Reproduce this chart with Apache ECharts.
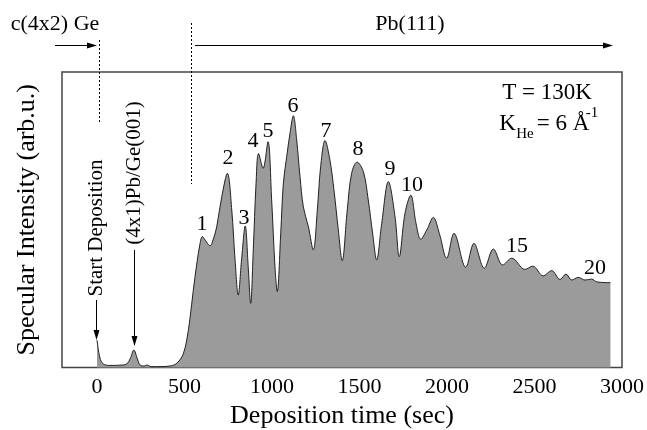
<!DOCTYPE html>
<html>
<head>
<meta charset="utf-8">
<script src="https://cdn.jsdelivr.net/npm/echarts@6/dist/echarts.min.js"></script>
<style>
html,body{margin:0;padding:0;background:#fff;}
#main{width:647px;height:430px;}
</style>
</head>
<body>
<div id="main"></div>
<script>
// deposition time (sec)
var times = [0, 17, 36, 74, 149, 170, 189, 211, 229, 246, 269, 287, 309, 360, 417, 446, 474, 493, 512, 531,
    550, 570, 589, 602, 625, 646, 665, 684, 713, 745, 770, 789, 807, 826, 847, 864, 878, 893, 909, 923,
    949, 977, 998, 1017, 1030, 1050, 1065, 1084, 1103, 1122, 1141, 1160, 1179, 1208, 1236, 1259, 1278, 1303, 1331, 1354,
    1379, 1401, 1430, 1455, 1486, 1522, 1550, 1575, 1598, 1627, 1665, 1703, 1727, 1760, 1793, 1823, 1850, 1884, 1922, 1956,
    1998, 2040, 2107, 2154, 2213, 2265, 2318, 2370, 2446, 2490, 2550, 2598, 2646, 2680, 2713, 2750, 2789, 2827, 2855, 2934];
// specular intensity (arb.u.)
var intensity = [9.3, 3.2, 1.2, 0.7, 0.85, 1.2, 2.9, 5.9, 3.2, 0.85, 0.5, 0.85, 0.3, 0.3, 0.5, 1.0, 2.6, 4.6, 9, 16.5,
    26, 35, 42, 44.3, 42.5, 41.2, 43.5, 47.6, 57.8, 65.7, 53.3, 36.4, 24.5, 36.4, 47.9, 34.1, 21.7, 39.8, 62.4, 72.4,
    67.4, 76.4, 56.7, 34.1, 25.7, 45.5, 62.4, 71.3, 79.3, 85.2, 77.0, 64.6, 54.4, 47.6, 39.8, 53.3, 68.0, 76.8, 70.2, 60.1,
    46.5, 36.1, 53.3, 65.7, 69.5, 66.3, 56.7, 45.4, 36.4, 48.8, 62.9, 51.0, 37.5, 52.2, 58.3, 48.8, 43.4, 46.5, 50.8, 45.4,
    37.0, 45.4, 33.9, 42.0, 33.6, 40.1, 34.7, 37.0, 33.2, 34.3, 31.0, 32.8, 29.8, 31.6, 29.6, 30.5, 29.6, 29.9, 29.0, 28.7];
var xTicks = [0, 500, 1000, 1500, 2000, 2500, 3000];
var peakNames = ['1', '2', '3', '4', '5', '5.5', '6', '7', '8', '9', '10', '15', '20'];

var FONT = '"Liberation Serif", "DejaVu Serif", serif';
var dom = document.getElementById('main');
var myChart = echarts.init(dom);

var seriesData = [];
for (var i = 0; i < times.length; i++) {
    seriesData.push([times[i], intensity[i]]);
}

// label spots for the peak numbers (pixels)
var peakPos = [[202, 224], [228, 158], [244, 218], [253, 141], [268, 131], [278, 311], [293, 106],
    [326, 131], [358, 149], [390, 169], [412, 185], [517, 246], [595, 268]];

function txt(s, x, y, size, extra) {
    var o = {
        type: 'text', x: x, y: y, silent: true,
        style: {
            text: s, font: size + 'px ' + FONT, fill: '#000',
            align: 'center', verticalAlign: 'middle',
            textAlign: 'center', textVerticalAlign: 'middle'
        }
    };
    if (extra) {
        for (var k in extra) o[k] = extra[k];
    }
    return o;
}
function seg(x1, y1, x2, y2, dash) {
    return {
        type: 'line', silent: true,
        shape: {x1: x1, y1: y1, x2: x2, y2: y2},
        style: {stroke: '#000', lineWidth: 1, lineDash: dash || null}
    };
}
function headRight(x, y) {
    return {type: 'polygon', silent: true, shape: {points: [[x, y], [x - 10, y - 3], [x - 10, y + 3]]}, style: {fill: '#000'}};
}
function headDown(x, y) {
    return {type: 'polygon', silent: true, shape: {points: [[x, y], [x - 3, y - 10], [x + 3, y - 10]]}, style: {fill: '#000'}};
}

var graphics = [];
for (var p = 0; p < peakNames.length; p++) {
    graphics.push(txt(peakNames[p], peakPos[p][0], peakPos[p][1], 22));
}
graphics.push(txt('c(4x2) Ge', 55, 24, 22));
graphics.push(txt('Pb(111)', 410, 24, 22));
graphics.push(seg(55, 45.5, 95, 45.5));
graphics.push(headRight(97, 45.5));
graphics.push(seg(195, 45.5, 610, 45.5));
graphics.push(headRight(613, 45.5));
graphics.push(seg(99.5, 40, 99.5, 123, [2, 2]));
graphics.push(seg(191.5, 23, 191.5, 184, [2, 2]));
graphics.push(seg(96.5, 300, 96.5, 336));
graphics.push(headDown(96.5, 340));
graphics.push(seg(134.5, 250, 134.5, 342));
graphics.push(headDown(134.5, 346));
graphics.push(txt('Start Deposition', 96, 228, 21, {rotation: Math.PI / 2}));
graphics.push(txt('(4x1)Pb/Ge(001)', 134, 173, 21, {rotation: Math.PI / 2}));
graphics.push(txt('T = 130K', 547, 93, 23));
graphics.push(txt('K', 507.5, 124, 23));
graphics.push(txt('He', 525, 134, 15));
graphics.push(txt('= 6 \u00c5', 563, 124, 23));
graphics.push(txt('-1', 592, 113, 15));

var option = {
    animation: false,
    backgroundColor: '#fff',
    grid: {
        left: 62, right: 25, top: 72, bottom: 62.5,
        containLabel: false, outerBoundsMode: 'none',
        show: true, borderColor: '#444', borderWidth: 1.5, backgroundColor: 'transparent'
    },
    xAxis: {
        type: 'value', min: -200, max: 3000,
        name: 'Deposition time (sec)', nameLocation: 'middle', nameGap: 35,
        nameTextStyle: {fontFamily: FONT, fontSize: 26, color: '#000'},
        axisLine: {show: false},
        axisTick: {show: false},
        splitLine: {show: false},
        axisLabel: {
            customValues: xTicks, fontFamily: FONT, fontSize: 22, color: '#000', margin: 9,
            formatter: function (v) { return String(v); }
        }
    },
    yAxis: {
        type: 'value', min: 0, max: 100,
        name: 'Specular Intensity (arb.u.)', nameLocation: 'middle', nameGap: 22,
        nameTextStyle: {fontFamily: FONT, fontSize: 26, color: '#000'},
        axisLine: {show: false},
        axisTick: {show: false},
        axisLabel: {show: false},
        splitLine: {show: false}
    },
    series: [{
        type: 'line',
        data: seriesData,
        smooth: 0.35,
        showSymbol: false,
        lineStyle: {color: '#222', width: 1},
        areaStyle: {color: '#9b9b9b', opacity: 1}
    }],
    graphic: graphics
};
myChart.setOption(option, true);
</script>
</body>
</html>
